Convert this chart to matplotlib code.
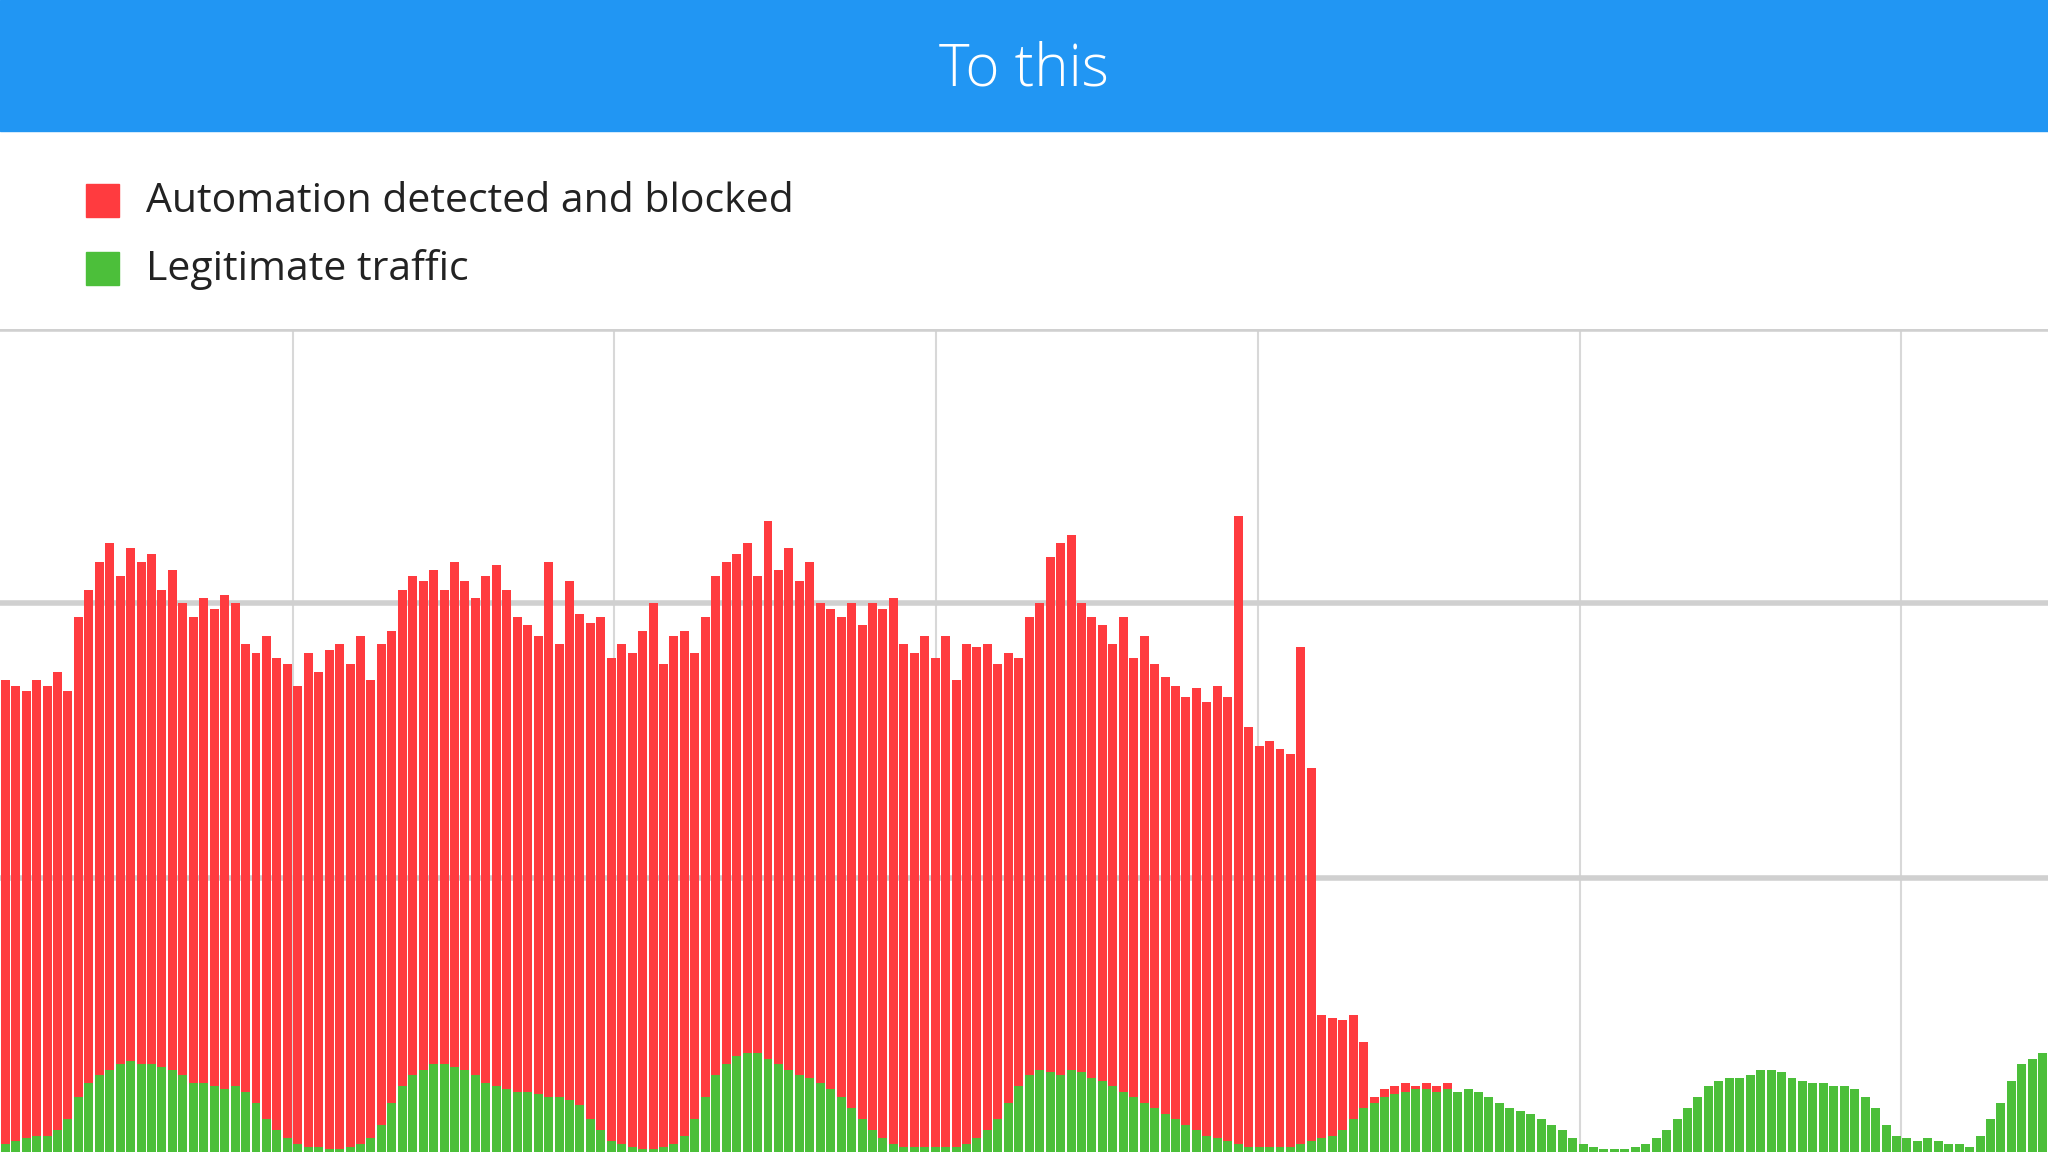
import matplotlib
matplotlib.use("Agg")
import matplotlib.pyplot as plt
from matplotlib.patches import Rectangle

# total bar height (blocked + legitimate), one bar per slot
blocked_top = [
    1.72, 1.70, 1.68, 1.72, 1.70, 1.75, 1.68, 1.95, 2.05,
    2.15, 2.22, 2.10, 2.20, 2.15, 2.18, 2.05, 2.12, 2.00, 1.95,
    2.02, 1.98, 2.03, 2.00, 1.85, 1.82, 1.88, 1.80, 1.78, 1.70,
    1.82, 1.75, 1.83, 1.85, 1.78, 1.88, 1.72, 1.85, 1.90, 2.05,
    2.10, 2.08, 2.12, 2.05, 2.15, 2.08, 2.02, 2.10, 2.14, 2.05,
    1.95, 1.92, 1.88, 2.15, 1.85, 2.08, 1.96, 1.93, 1.95, 1.80,
    1.85, 1.82, 1.90, 2.00, 1.78, 1.88, 1.90, 1.82, 1.95, 2.10,
    2.15, 2.18, 2.22, 2.10, 2.30, 2.12, 2.20, 2.08, 2.15, 2.00,
    1.98, 1.95, 2.00, 1.92, 2.00, 1.98, 2.02, 1.85, 1.82, 1.88,
    1.80, 1.88, 1.72, 1.85, 1.84, 1.85, 1.78, 1.82, 1.80, 1.95,
    2.00, 2.17, 2.22, 2.25, 2.00, 1.95, 1.92, 1.85, 1.95, 1.80,
    1.88, 1.78, 1.73, 1.70, 1.66, 1.69, 1.64, 1.70, 1.66, 2.32,
    1.55, 1.48, 1.50, 1.47, 1.45, 1.84, 1.40, 0.50, 0.49, 0.48,
    0.50, 0.40, 0.20, 0.23, 0.24, 0.25, 0.24, 0.25, 0.24, 0.25,
]

legit = [
    0.03, 0.04, 0.05, 0.06, 0.06, 0.08, 0.12, 0.20, 0.25,
    0.28, 0.30, 0.32, 0.33, 0.32, 0.32, 0.31, 0.30, 0.28, 0.25,
    0.25, 0.24, 0.23, 0.24, 0.22, 0.18, 0.12, 0.08, 0.05, 0.03,
    0.02, 0.02, 0.01, 0.01, 0.02, 0.03, 0.05, 0.10, 0.18, 0.24,
    0.28, 0.30, 0.32, 0.32, 0.31, 0.30, 0.28, 0.25, 0.24, 0.23,
    0.22, 0.22, 0.21, 0.20, 0.20, 0.19, 0.17, 0.12, 0.08, 0.04,
    0.03, 0.02, 0.01, 0.01, 0.02, 0.03, 0.06, 0.12, 0.20, 0.28,
    0.32, 0.35, 0.36, 0.36, 0.34, 0.32, 0.30, 0.28, 0.27, 0.25,
    0.23, 0.20, 0.16, 0.12, 0.08, 0.05, 0.03, 0.02, 0.02, 0.02,
    0.02, 0.02, 0.02, 0.03, 0.05, 0.08, 0.12, 0.18, 0.24, 0.28,
    0.30, 0.29, 0.28, 0.30, 0.29, 0.27, 0.26, 0.24, 0.22, 0.20,
    0.18, 0.16, 0.14, 0.12, 0.10, 0.08, 0.06, 0.05, 0.04, 0.03,
    0.02, 0.02, 0.02, 0.02, 0.02, 0.03, 0.04, 0.05, 0.06, 0.08,
    0.12, 0.16, 0.18, 0.20, 0.21, 0.22, 0.23, 0.23, 0.22, 0.23,
    0.22, 0.23, 0.22, 0.20, 0.18, 0.16, 0.15, 0.14, 0.12, 0.10,
    0.08, 0.05, 0.03, 0.02, 0.01, 0.01, 0.01, 0.02, 0.03, 0.05,
    0.08, 0.12, 0.16, 0.20, 0.24, 0.26, 0.27, 0.27, 0.28, 0.30,
    0.30, 0.29, 0.27, 0.26, 0.25, 0.25, 0.24, 0.24, 0.23, 0.20,
    0.16, 0.10, 0.06, 0.05, 0.04, 0.05, 0.04, 0.03, 0.03, 0.02,
    0.06, 0.12, 0.18, 0.26, 0.32, 0.34, 0.36,
]

grid_x = [27.5, 58.25, 89.1, 119.9, 150.75, 181.4]
grid_y = [1, 2, 3]

RED = "#ff3b3f"
GREEN = "#4cbf3a"
BLUE = "#2196f3"

fig = plt.figure(figsize=(20.48, 11.52), dpi=100)
fig.patches.append(Rectangle((0, 1 - 131 / 1152), 1, 131 / 1152, transform=fig.transFigure,
                             color=BLUE, zorder=0))
fig.text(0.5, 1 - 70 / 1152, "To this", ha="center", va="center", color="white",
         fontsize=42, family="Open Sans", fontweight="light")

# legend
for yy, col, label in [(200, RED, "Automation detected and blocked"), (268, GREEN, "Legitimate traffic")]:
    fig.patches.append(Rectangle((86 / 2048, 1 - (yy + 17) / 1152), 33 / 2048, 33 / 1152,
                                 transform=fig.transFigure, color=col))
    fig.text(146 / 2048, 1 - (yy + 2) / 1152, label, ha="left", va="center", color="#222222",
             fontsize=29.5, family="Open Sans")

ax = fig.add_axes([0, 0, 1, (1152 - 329) / 1152])
ax.set_xlim(-0.5, len(legit) - 0.5)
ax.set_ylim(0, 3.0)
for gx in grid_x:
    ax.axvline(gx, color="#d8d8d8", lw=1.5, zorder=0)
for gy in grid_y:
    ax.axhline(gy, color="#d0d0d0", lw=4, zorder=0.5)

ax.bar(range(len(blocked_top)), blocked_top, width=0.86, color=RED, zorder=1)
ax.bar(range(len(legit)), legit, width=0.86, color=GREEN, zorder=2)
ax.axis("off")

fig.savefig("out.png", dpi=100)
